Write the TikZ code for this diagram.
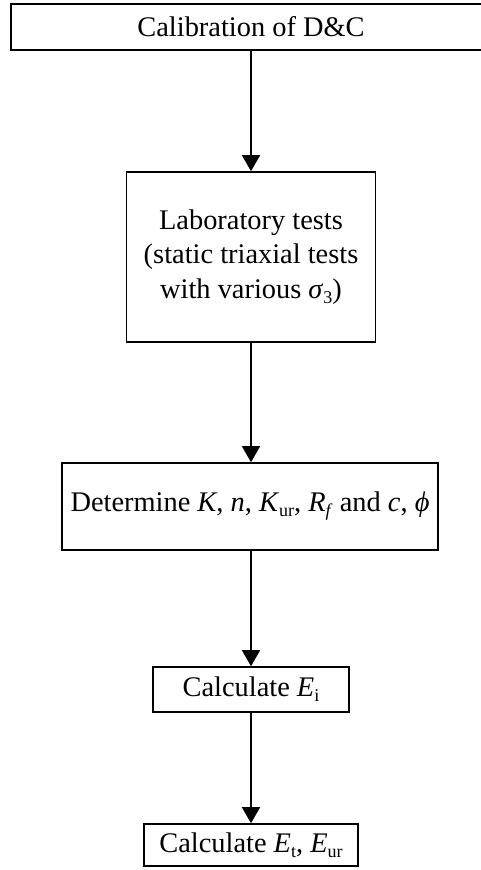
\documentclass[tikz,border=0pt]{standalone}
\usepackage{fontspec}
\setmainfont{Liberation Serif}
\usetikzlibrary{arrows.meta}
\newcommand{\lowsub}[1]{\raisebox{-5pt}{\fontsize{18}{18}\selectfont #1}}
\begin{document}
\begin{tikzpicture}[x=1pt,y=-1pt,
  box/.style={draw, line width=1.6pt, inner sep=0pt, align=center,
    font=\fontsize{28.4}{34.5}\selectfont},
  arr/.style={-{Triangle[width=18pt,length=16pt]}, line width=1.6pt}]
\useasboundingbox (0,0) rectangle (481,870);
\node[box, minimum width=480pt, minimum height=46pt] (b1) at (251,27) {Calibration of D\&C};
\node[box, minimum width=249pt, minimum height=170pt] (b2) at (251,257)
  {Laboratory tests\\(static triaxial tests\\with various \textit{σ}\lowsub{3})};
\node[box, minimum width=376pt, minimum height=87pt] (b3) at (250,506.5)
  {Determine \textit{K}, \textit{n}, \textit{K}\lowsub{ur}, \textit{R}\lowsub{\textit{f}} and \textit{c}, \textit{ϕ}};
\node[box, minimum width=196pt, minimum height=45pt] (b4) at (251,689.5)
  {Calculate \textit{E}\lowsub{i}};
\node[box, minimum width=214pt, minimum height=42pt] (b5) at (251,845)
  {Calculate \textit{E}\lowsub{t}, \textit{E}\lowsub{ur}};
\draw[arr] (b1.south) -- (b1.south |- b2.north);
\draw[arr] (b2.south) -- (b2.south |- b3.north);
\draw[arr] (b2.south |- b3.south) -- (b2.south |- b4.north);
\draw[arr] (b4.south) -- (b5.north);
\end{tikzpicture}
\end{document}
